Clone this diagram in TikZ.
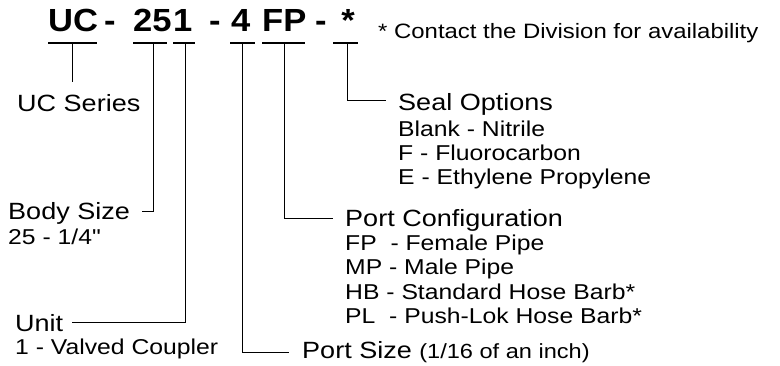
\documentclass[tikz,border=0pt]{standalone}
\usepackage{fontspec}
\setmainfont{Liberation Sans}[FakeStretch=1.15, Ligatures=TeXOff]
\newfontfamily\codefont{Liberation Sans}[FakeStretch=1.08]
\begin{document}
\begin{tikzpicture}[x=1pt,y=-1pt,
  code/.style={font=\codefont\fontsize{32}{36}\selectfont\bfseries, inner sep=0pt, anchor=base west},
  head/.style={font=\fontsize{23.5}{27}\selectfont, inner sep=0pt, anchor=base west},
  sub/.style={font=\fontsize{21.5}{24}\selectfont, inner sep=0pt, anchor=base west},
  note/.style={font=\fontsize{20.8}{24}\selectfont, inner sep=0pt, anchor=base west},
  uline/.style={line width=1.6pt},
  conn/.style={line width=1pt}]
\useasboundingbox (0,0) rectangle (780,366);
% code line
\node[code] (uc) at (48,32) {UC};
\node[code,anchor=base] (d1) at (110,32) {-};
\node[code] (n25) at (133,32) {25};
\node[code] (n1) at (173,32) {1};
\node[code,anchor=base] (d2) at (215,32) {-};
\node[code] (n4) at (231,32) {4};
\node[code] (fp) at (262,32) {FP};
\node[code,anchor=base] (d3) at (321,32) {-};
\node[code,anchor=base] (st) at (348,32) {*};
\node[note] (contact) at (378,39) {* Contact the Division for availability};
% underlines
\coordinate (u1a) at (48,43);  \coordinate (u1b) at (97,43);
\coordinate (u2a) at (133,43); \coordinate (u2b) at (167,43);
\coordinate (u3a) at (173,43); \coordinate (u3b) at (195,43);
\coordinate (u4a) at (230,43); \coordinate (u4b) at (255,43);
\coordinate (u5a) at (262,43); \coordinate (u5b) at (305,43);
\coordinate (u6a) at (333,43); \coordinate (u6b) at (358,43);
\foreach \i in {1,...,6} \draw[uline] (u\i a) -- (u\i b);
% labels
\node[head] (ucs) at (17,112) {UC Series};
\node[head] (body) at (8,220) {Body Size};
\node[sub] (bodyv) at (8,245) {25 - 1/4"};
\node[head] (unit) at (15,331.5) {Unit};
\node[sub] (unitv) at (15,355) {1 - Valved Coupler};
\node[head] (psize) at (302,359) {Port Size {\fontsize{20.5}{23}\selectfont(1/16 of an inch)}};
\node[head] (pconf) at (345,226.5) {Port Configuration};
\node[sub] (pc1) at (345,250.5) {FP\ \ - Female Pipe};
\node[sub] (pc2) at (345,275) {MP - Male Pipe};
\node[sub] (pc3) at (345,299.5) {HB - Standard Hose Barb*};
\node[sub] (pc4) at (345,323.5) {PL\ \ - Push-Lok Hose Barb*};
\node[head] (seal) at (398,110.5) {Seal Options};
\node[sub] (s1) at (398,136.5) {Blank - Nitrile};
\node[sub] (s2) at (398,160.5) {F - Fluorocarbon};
\node[sub] (s3) at (398,185) {E - Ethylene Propylene};
% connectors
\coordinate (c1) at (72,43);  \coordinate (e1) at (72,82);
\coordinate (c2) at (153,43); \coordinate (e2) at (141.5,211.5);
\coordinate (c3) at (185,43); \coordinate (e3) at (71.5,322.5);
\coordinate (c4) at (242,43); \coordinate (e4) at (289,352.5);
\coordinate (c5) at (284,43); \coordinate (e5) at (333,218.5);
\coordinate (c6) at (347,43); \coordinate (e6) at (386,100.5);
\draw[conn] (c1) -- (e1);
\draw[conn] (c2) |- (e2);
\draw[conn] (c3) |- (e3);
\draw[conn] (c4) |- (e4);
\draw[conn] (c5) |- (e5);
\draw[conn] (c6) |- (e6);
\end{tikzpicture}
\end{document}
